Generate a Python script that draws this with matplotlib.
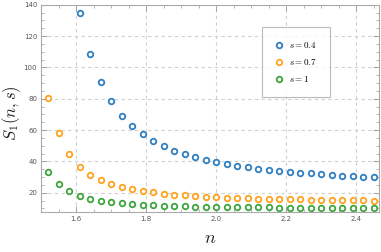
import numpy as np
import matplotlib
matplotlib.use("Agg")
import matplotlib.pyplot as plt
from matplotlib.ticker import MultipleLocator

# n values (step 0.03)
n_all = [1.52, 1.55, 1.58, 1.61, 1.64, 1.67, 1.70, 1.73, 1.76, 1.79, 1.82,
         1.85, 1.88, 1.91, 1.94, 1.97, 2.00, 2.03, 2.06, 2.09, 2.12, 2.15,
         2.18, 2.21, 2.24, 2.27, 2.30, 2.33, 2.36, 2.39, 2.42, 2.45]
n_blue = n_all[3:]

s04 = [134.5, 108.3, 90.6, 78.3, 69.1, 62.5, 57.3, 53.0, 49.6, 46.8, 44.7,
       42.6, 40.9, 39.4, 38.3, 37.0, 36.2, 35.3, 34.5, 33.8, 33.2, 32.8,
       32.4, 31.7, 31.3, 30.8, 30.5, 30.2, 29.8]
s07 = [80.2, 57.9, 44.9, 36.6, 31.3, 27.9, 25.6, 23.6, 22.2, 21.1, 20.2,
       19.4, 18.8, 18.3, 17.9, 17.5, 17.2, 16.9, 16.7, 16.5, 16.3, 16.1,
       16.0, 15.8, 15.7, 15.6, 15.5, 15.4, 15.3, 15.2, 15.1, 15.0]
s10 = [33.4, 25.4, 20.9, 17.9, 16.0, 14.9, 14.0, 13.3, 12.8, 12.4, 12.0,
       11.7, 11.5, 11.3, 11.2, 11.0, 10.9, 10.8, 10.8, 10.7, 10.6, 10.6,
       10.5, 10.5, 10.4, 10.4, 10.3, 10.3, 10.3, 10.2, 10.2, 10.2]

labels = ["$s=0.4$", "$s=0.7$", "$s=1$"]
colors = ["#2f7fc1", "#ffa31f", "#3da53d"]

plt.rcParams["mathtext.fontset"] = "cm"

fig = plt.figure(figsize=(3.81, 2.52), dpi=100)
ax = fig.add_axes([0.1084, 0.1575, 0.8871, 0.8235])

for xs, ys, lab, c in zip([n_blue, n_all, n_all], [s04, s07, s10], labels, colors):
    ax.plot(xs, ys, "o", ms=4.0, mfc="white", mec=c, mew=1.3, label=lab,
            clip_on=True)

ax.set_xlim(1.5, 2.466)
ax.set_ylim(7.5, 140)
ax.xaxis.set_major_locator(MultipleLocator(0.2))
ax.xaxis.set_minor_locator(MultipleLocator(0.05))
ax.yaxis.set_major_locator(MultipleLocator(20))
ax.yaxis.set_minor_locator(MultipleLocator(5))
ax.set_xticks([1.6, 1.8, 2.0, 2.2, 2.4])
ax.set_xticklabels(["1.6", "1.8", "2.0", "2.2", "2.4"])

ax.grid(True, which="major", color="#d0d0d0", ls=(0, (3, 3)), lw=0.8)
ax.set_axisbelow(True)

for sp in ax.spines.values():
    sp.set_color("#aaaaaa")
    sp.set_linewidth(0.8)
ax.tick_params(which="both", direction="in", top=True, right=True,
               color="#999999", labelsize=5, labelcolor="#555555")
ax.tick_params(which="major", length=4, width=0.6, pad=3)
ax.tick_params(which="minor", length=2, width=0.5)

ax.set_xlabel("$n$", fontsize=13, labelpad=5, color="#222222")
fig.text(11.5 / 381, 0.55, "$S_1(n,s)$", fontsize=12, rotation=90,
         ha="center", va="center", color="#222222")

leg = ax.legend(loc="upper left", bbox_to_anchor=(0.653, 0.8925),
                borderaxespad=0, frameon=True, fancybox=False, fontsize=6.5,
                handletextpad=0.6, borderpad=1.4, labelspacing=0.8,
                handlelength=1.0)
leg.get_frame().set_edgecolor("#aaaaaa")
leg.get_frame().set_linewidth(0.8)

plt.savefig("out.png", dpi=100)
